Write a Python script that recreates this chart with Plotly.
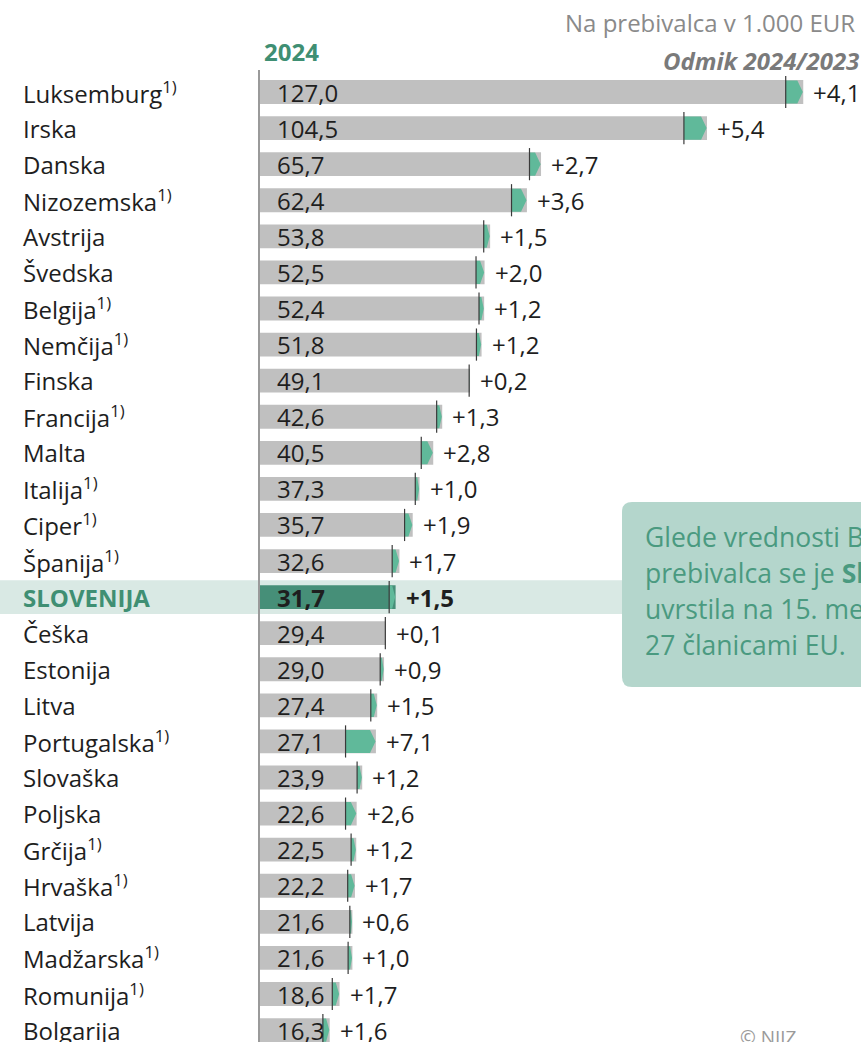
import plotly.graph_objects as go

countries = ["Luksemburg", "Irska", "Danska", "Nizozemska", "Avstrija", "Švedska", "Belgija",
             "Nemčija", "Finska", "Francija", "Malta", "Italija", "Ciper", "Španija", "SLOVENIJA",
             "Češka", "Estonija", "Litva", "Portugalska", "Slovaška", "Poljska", "Grčija",
             "Hrvaška", "Latvija", "Madžarska", "Romunija", "Bolgarija"]
footnote = [1, 0, 0, 1, 0, 0, 1, 1, 0, 1, 0, 1, 1, 1, 0, 0, 0, 0, 1, 0, 0, 1, 1, 0, 1, 1, 0]
values_2024 = [127.0, 104.5, 65.7, 62.4, 53.8, 52.5, 52.4, 51.8, 49.1, 42.6, 40.5, 37.3, 35.7,
               32.6, 31.7, 29.4, 29.0, 27.4, 27.1, 23.9, 22.6, 22.5, 22.2, 21.6, 21.6, 18.6, 16.3]
change = [4.1, 5.4, 2.7, 3.6, 1.5, 2.0, 1.2, 1.2, 0.2, 1.3, 2.8, 1.0, 1.9, 1.7, 1.5, 0.1, 0.9,
          1.5, 7.1, 1.2, 2.6, 1.2, 1.7, 0.6, 1.0, 1.7, 1.6]
highlight = "SLOVENIJA"
callout = ["Glede vrednosti BDP na", "prebivalca se je <b>Slovenija</b>",
           "uvrstila na 15. mesto med", "27 članicami EU."]

FONT = "Open Sans"
GRAY_BAR = "#c0c0c0"
GREEN_ARROW = "#60b99a"
GREEN_DARK = "#468f78"
GREEN_TEXT = "#3f8f73"
TEXT = "#1e1e1e"

n = len(countries)
idx = list(range(n))
hi = countries.index(highlight)
prev = [v - d for v, d in zip(values_2024, change)]

# plot geometry (pixels)
L, R_MARGIN, T, W, H = 260, 0, 70, 861, 1042
pw = W - L - R_MARGIN
XMAX = 140.5
px_per_unit = pw / XMAX
ROW = 36.08
FIRST = 92  # pixel centre of first row

def fmt(v, sign=False):
    s = f"{v:.1f}".replace(".", ",")
    return ("+" + s) if sign else s

fig = go.Figure()
fig.add_bar(y=idx, x=values_2024, orientation="h", width=0.66,
            marker=dict(color=[GREEN_DARK if i == hi else GRAY_BAR for i in idx], line_width=0),
            hoverinfo="skip")

# green arrow (pentagon) from 2023 value to 2024 value
ax, ay = [], []
hh = 0.32
tip_px = 5.5
for i in idx:
    x0 = prev[i]
    x1 = values_2024[i] - 0.4 / px_per_unit
    t = min(tip_px / px_per_unit, 0.5 * (x1 - x0))
    ax += [x0, x1 - t, x1, x1 - t, x0, x0, None]
    ay += [i - hh, i - hh, i, i + hh, i + hh, i - hh, None]
fig.add_scatter(x=ax, y=ay, mode="lines", fill="toself", fillcolor=GREEN_ARROW,
                line=dict(width=0, color=GREEN_ARROW), hoverinfo="skip")
fig.add_scatter(x=prev, y=idx, mode="markers",
                marker=dict(symbol="line-ns", size=23, line=dict(width=1.2, color="#3a3a3a")),
                hoverinfo="skip")

ann = []
for i in idx:
    bold = i == hi
    name = countries[i] + ("<sup>1)</sup>" if footnote[i] else "")
    if bold:
        name = "<b>" + name + "</b>"
    ann.append(dict(x=(21 - L) / pw, xref="paper", y=i, yref="y", text=name, showarrow=False,
                    xanchor="left", yanchor="middle",
                    font=dict(family=FONT, size=24, color=GREEN_TEXT if bold else TEXT)))
    vt = fmt(values_2024[i])
    ct = fmt(change[i], True)
    if bold:
        vt, ct = "<b>" + vt + "</b>", "<b>" + ct + "</b>"
    ann.append(dict(x=0, y=i, text=vt, showarrow=False, xanchor="left", yanchor="middle",
                    xshift=15, font=dict(family=FONT, size=24, color=TEXT)))
    ann.append(dict(x=values_2024[i], y=i, text=ct, showarrow=False, xanchor="left",
                    yanchor="middle", xshift=8, font=dict(family=FONT, size=24, color=TEXT)))

def py(p):  # screen pixel y -> paper y
    return 1 + (T - p) / (H - T)

ann.append(dict(x=(857 - L) / pw, xref="paper", y=py(22), yref="paper", text="Na prebivalca v 1.000 EUR",
                showarrow=False, xanchor="right", yanchor="middle",
                font=dict(family=FONT, size=24, color="#8a8a8a")))
ann.append(dict(x=1.0, xref="paper", y=py(60), yref="paper", text="<b><i>Odmik 2024/2023</i></b>",
                showarrow=False, xanchor="right", yanchor="middle",
                font=dict(family=FONT, size=24, color="#7a7a7a")))
ann.append(dict(x=(262 - L) / pw, xref="paper", y=py(52), yref="paper", text="<b>2024</b>",
                showarrow=False, xanchor="left", yanchor="middle",
                font=dict(family=FONT, size=24, color=GREEN_TEXT)))

for k, line in enumerate(callout):
    ann.append(dict(x=(643 - L) / pw, xref="paper", y=12.33 + k, text=line, showarrow=False,
                    xanchor="left", yanchor="middle", font=dict(family=FONT, size=26.5, color="#4a9a80")))

ann.append(dict(x=(738 - L) / pw, xref="paper", y=26.2, text="© NIJZ", showarrow=False,
                xanchor="left", yanchor="middle", font=dict(family=FONT, size=19, color="#9a9a9a")))

# shapes: highlight band + callout box
bx0, bx1 = (622 - L) / pw, (880 - L) / pw
by0, by1 = (502 - FIRST) / ROW, (687 - FIRST) / ROW
rx, ry = 10 / pw, 10 / ROW
path = (f"M {bx0+rx} {by0} L {bx1} {by0} L {bx1} {by1} L {bx0+rx} {by1} "
        f"Q {bx0} {by1} {bx0} {by1-ry} L {bx0} {by0+ry} Q {bx0} {by0} {bx0+rx} {by0} Z")
shapes = [
    dict(type="rect", xref="paper", yref="y", x0=-L / pw, x1=(625 - L) / pw,
         y0=hi - 0.47, y1=hi + 0.47, fillcolor="#d9e9e4", line_width=0, layer="below"),
    dict(type="path", xref="paper", yref="y", path=path, fillcolor="#b4d6cc", line_width=0,
         layer="above"),
]

y_bottom = (H - FIRST) / ROW
y_top = (T - FIRST) / ROW

fig.update_layout(
    width=W, height=H, margin=dict(l=L, r=R_MARGIN, t=T, b=0),
    barmode="overlay", showlegend=False, paper_bgcolor="white", plot_bgcolor="rgba(0,0,0,0)",
    xaxis=dict(range=[0, XMAX], visible=False, fixedrange=True),
    yaxis=dict(range=[y_bottom, y_top], showticklabels=False, showgrid=False, zeroline=False,
               showline=True, linecolor="#9a9a9a", linewidth=2, ticks="", fixedrange=True),
    annotations=ann, shapes=shapes, font=dict(family=FONT),
)
fig.write_html("out.html", config={"displayModeBar": False},
               post_script="document.body.style.margin='0';document.documentElement.style.overflow='hidden';")
